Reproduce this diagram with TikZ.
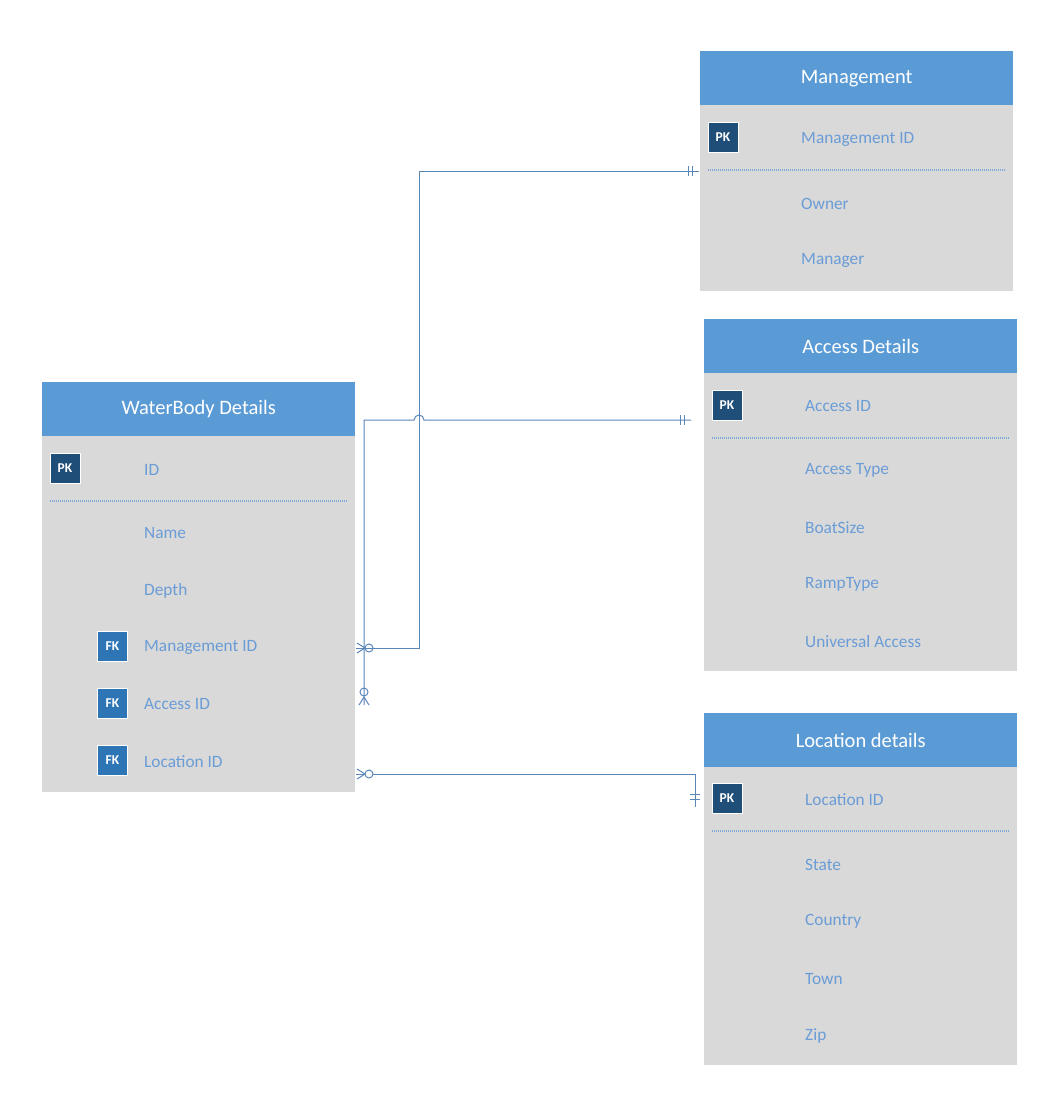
\documentclass[tikz,border=0pt]{standalone}
\usepackage{fontspec}
\setmainfont{Carlito}
\definecolor{hdrblue}{HTML}{5B9BD5}
\definecolor{bodygray}{HTML}{D9D9D9}
\definecolor{pkblue}{HTML}{1F4E79}
\definecolor{fkblue}{HTML}{2E75B6}
\definecolor{attrblue}{HTML}{6A9CD6}
\definecolor{sepblue}{HTML}{7FA8D8}
\definecolor{connblue}{HTML}{5A86B8}
\begin{document}
\begin{tikzpicture}[x=1pt,y=-1pt,
  hdr/.style={fill=hdrblue, text=white, anchor=north west, minimum width=313pt, minimum height=54pt, inner sep=0pt, font=\fontsize{20.5}{24}\selectfont},
  tbody/.style={fill=bodygray, anchor=north west, minimum width=313pt, inner sep=0pt},
  pkbox/.style={fill=pkblue, draw=white, line width=1pt, minimum size=30pt, inner sep=0pt, text=white, font=\fontsize{13.5}{15}\selectfont\bfseries},
  fkbox/.style={fill=fkblue, draw=white, line width=1pt, minimum size=30pt, inner sep=0pt, text=white, font=\fontsize{13.5}{15}\selectfont\bfseries},
  attr/.style={anchor=west, inner sep=0pt, text=attrblue, font=\fontsize{17.3}{20}\selectfont},
  sep/.style={draw=sepblue, dash pattern=on 1pt off 1pt, line width=1.2pt},
  conn/.style={draw=connblue, line width=1pt},
]
\useasboundingbox (0,0) rectangle (1052,1116);

% ---------- Management ----------
\node[tbody, minimum height=186pt] (mgb) at (700,105) {};
\node[hdr] (mgh) at (700,51) {Management};
\node[pkbox] (mgpk) at (723,137.5) {PK};
\node[attr] (mga1) at (801,139) {Management ID};
\draw[sep] (708,170) -- (1005,170);
\node[attr] (mga2) at (801,203.5) {Owner};
\node[attr] (mga3) at (801,260.5) {Manager};

% ---------- Access Details ----------
\node[tbody, minimum height=298pt] (acb) at (704,373) {};
\node[hdr] (ach) at (704,319) {Access Details};
\node[pkbox] (acpk) at (727,405) {PK};
\node[attr] (aca1) at (805,406.5) {Access ID};
\draw[sep] (712,438) -- (1009,438);
\node[attr] (aca2) at (805,470.5) {Access Type};
\node[attr] (aca3) at (805,527.5) {BoatSize};
\node[attr] (aca4) at (805,584.5) {RampType};
\node[attr] (aca5) at (805,641.5) {Universal Access};

% ---------- WaterBody Details ----------
\node[tbody, minimum height=356pt] (wbb) at (42,436) {};
\node[hdr] (wbh) at (42,382) {WaterBody Details};
\node[pkbox] (wbpk) at (65,468) {PK};
\node[attr] (wba1) at (144,469.5) {ID};
\draw[sep] (50,501) -- (347,501);
\node[attr] (wba2) at (144,533.5) {Name};
\node[attr] (wba3) at (144,590.5) {Depth};
\node[fkbox] (wbfk1) at (112.5,646.5) {FK};
\node[attr] (wba4) at (144,647.5) {Management ID};
\node[fkbox] (wbfk2) at (112.5,703.5) {FK};
\node[attr] (wba5) at (144,704.5) {Access ID};
\node[fkbox] (wbfk3) at (112.5,760.5) {FK};
\node[attr] (wba6) at (144,761.5) {Location ID};

% ---------- Location details ----------
\node[tbody, minimum height=298pt] (lcb) at (704,767) {};
\node[hdr] (lch) at (704,713) {Location details};
\node[pkbox] (lcpk) at (727,798) {PK};
\node[attr] (lca1) at (805,799.5) {Location ID};
\draw[sep] (712,831) -- (1009,831);
\node[attr] (lca2) at (805,864.5) {State};
\node[attr] (lca3) at (805,921.5) {Country};
\node[attr] (lca4) at (805,978.5) {Town};
\node[attr] (lca5) at (805,1035.5) {Zip};

% ---------- connector end points ----------
\coordinate (mgE) at (699,171);
\coordinate (wbM) at (356,648);
\coordinate (mgX) at (419,171);
\coordinate (acE) at (691,420);
\coordinate (acX) at (364,420);
\coordinate (wbA) at (364,705);
\coordinate (wbL) at (356,774);
\coordinate (lcX) at (695,774);
\coordinate (lcE) at (695,807);

% Management (one) -- WaterBody (zero or many)
\draw[conn] (mgE) -- (mgX) -- (mgX |- wbM) -- (wbM);
\draw[conn] (688,166) -- (688,176) (692,166) -- (692,176);
\draw[conn] (365,648) -- (357,643) (365,648) -- (357,653);
\draw[conn] (369,648) circle[radius=4pt];

% Access (one) -- WaterBody (zero or many)
\draw[conn] (acE) -- (424,420) arc[start angle=0, end angle=180, radius=5pt] -- (acX) -- (wbA);
\draw[conn] (680,415) -- (680,425) (684,415) -- (684,425);
\draw[conn] (364,697) -- (359,705) (364,697) -- (369,705);
\draw[conn] (364,692) circle[radius=4pt];

% Location (one) -- WaterBody (zero or many)
\draw[conn] (wbL) -- (lcX) -- (lcE);
\draw[conn] (690,794) -- (700,794) (690,799) -- (700,799);
\draw[conn] (365,774) -- (357,769) (365,774) -- (357,779);
\draw[conn, fill=white] (369,774) circle[radius=4pt];
\end{tikzpicture}
\end{document}
